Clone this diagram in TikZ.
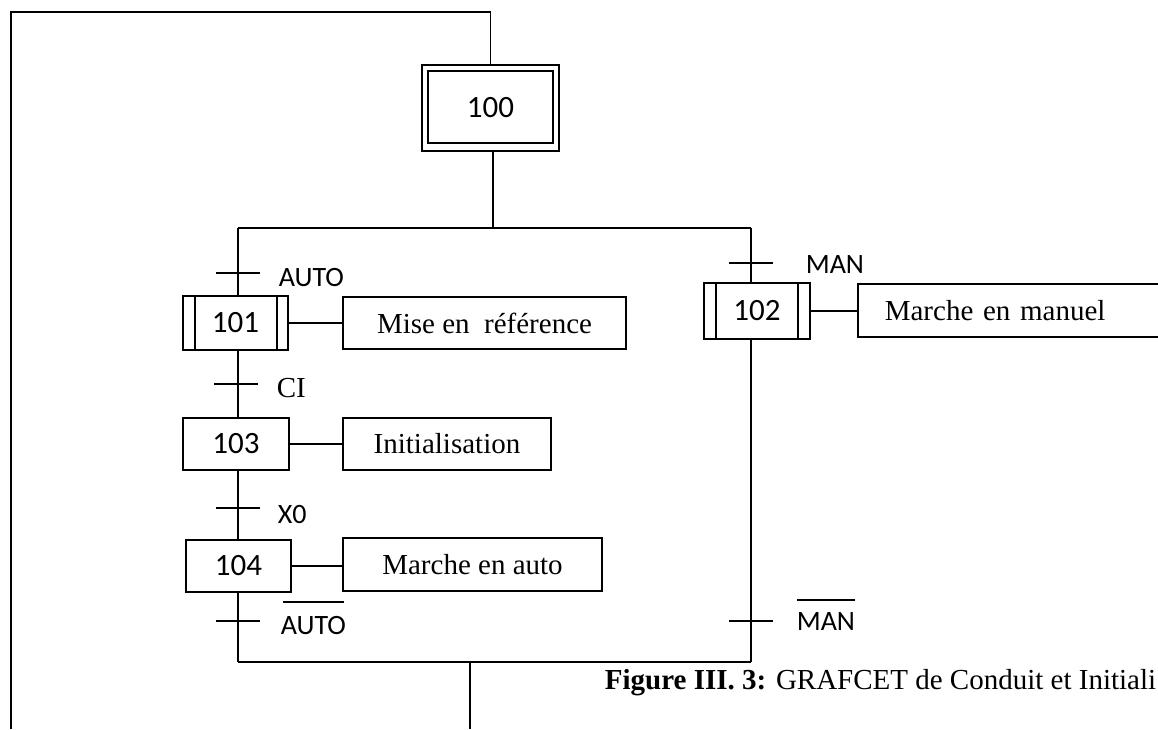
\documentclass[tikz,border=0pt]{standalone}
\usepackage{fontspec}
\setmainfont{Liberation Serif}
\newfontfamily\calfont{Carlito}
\usetikzlibrary{calc}
\newcommand\trtick[1]{\draw ($(#1)+(-22,0)$) -- ($(#1)+(22,0)$);}
\begin{document}
\begin{tikzpicture}[x=1pt,y=-1pt,line width=1.6pt,
  stepbox/.style={draw, inner sep=0pt, font=\calfont\fontsize{31}{31}\selectfont, minimum height=52pt},
  actbox/.style={draw, inner sep=0pt, font=\fontsize{29}{29}\selectfont, minimum height=52pt},
  lbl/.style={anchor=base west, inner sep=0pt, font=\calfont\fontsize{28}{28}\selectfont},
  capstyle/.style={anchor=base east, inner sep=0pt, font=\fontsize{29}{29}\selectfont}]
\useasboundingbox (0,0) rectangle (1158,729);
\clip (0,0) rectangle (1158,729);
% initial step 100
\node[stepbox, minimum width=137pt, minimum height=86pt] (s100) at (490.5,108) {100};
\draw[line width=2.2pt] ($(s100.north west)+(7,7)$) rectangle ($(s100.south east)+(-7,-9)$);
% loop back
\coordinate (topR) at (490.5,12);
\coordinate (loopL) at (11,729);
\draw (s100.north) -- (topR) -| (loopL);
% divergence
\coordinate (divC) at (493,228);
\coordinate (divL) at (238,228);
\coordinate (divR) at (751,228);
\draw (s100.south -| divC) -- (divC);
\draw (divL) -- (divR);
% steps
\node[stepbox, minimum width=105pt, minimum height=54pt] (s101) at (235.5,323) {101};
\draw ($(s101.north west)+(13,0)$) -- ($(s101.south west)+(13,0)$);
\draw ($(s101.north east)+(-12,0)$) -- ($(s101.south east)+(-12,0)$);
\node[stepbox, minimum width=106pt] (s103) at (236,444) {103};
\node[stepbox, minimum width=105pt] (s104) at (238.5,566) {104};
\node[stepbox, minimum width=106pt, minimum height=56pt] (s102) at (757,311) {102};
\draw ($(s102.north west)+(13,0)$) -- ($(s102.south west)+(13,0)$);
\draw ($(s102.north east)+(-13,0)$) -- ($(s102.south east)+(-13,0)$);
% actions
\node[actbox, minimum width=283pt] (a101) at (484.5,323) {Mise en~ référence};
\node[actbox, minimum width=208pt] (a103) at (447,444) {Initialisation};
\node[actbox, minimum width=259pt, minimum height=53pt] (a104) at (472.5,564.5) {Marche en auto};
\node[actbox, anchor=west, minimum height=53pt, inner xsep=27pt, text width=276pt, align=left] (a102) at (857,310.5) {Marche en manuel};
\draw (s101.east) -- (a101.west);
\draw (s103.east) -- (a103.west);
\draw (s104.east) -- (s104.east -| a104.west);
\draw (s102.east) -- (s102.east -| a102.west);
% convergence
\coordinate (convL) at (238,662);
\coordinate (convR) at (751,662);
\coordinate (convC) at (470,662);
\coordinate (outB) at (470,729);
% left branch links
\draw (divL) -- (divL |- s101.north);
\draw (divL |- s101.south) -- (divL |- s103.north);
\draw (divL |- s103.south) -- (divL |- s104.north);
\draw (divL |- s104.south) -- (convL);
% right branch links
\draw (divR) -- (divR |- s102.north);
\draw (divR |- s102.south) -- (convR);
\draw (convL) -- (convR);
\draw (convC) -- (outB);
% transitions
\coordinate (t1) at (238,273);
\coordinate (t2) at (236,384);
\coordinate (t3) at (238,508);
\coordinate (t4) at (238,621);
\coordinate (t5) at (751,263);
\coordinate (t6) at (751,621);
\trtick{t1}\trtick{t2}\trtick{t3}\trtick{t4}\trtick{t5}\trtick{t6}
\node[lbl] (l1) at (278,286) {AUTO};
\node[lbl, font=\fontsize{29}{29}\selectfont] (l2) at (276,397) {CI};
\node[lbl] (l3) at (277,523) {X0};
\node[lbl] (l4) at (280,634) {AUTO};
\draw ([xshift=3pt,yshift=13pt]l4.north west) -- ([xshift=-3pt,yshift=13pt]l4.north east);
\node[lbl] (l5) at (805,273) {MAN};
\node[lbl] (l6) at (796,630) {MAN};
\draw ([xshift=1pt,yshift=11pt]l6.north west) -- ([xshift=-1pt,yshift=11pt]l6.north east);
% caption
\node[capstyle] (cap) at (1157,689) {\textbf{Figure III. 3:} GRAFCET de Conduit et Initiali};
\end{tikzpicture}
\end{document}
